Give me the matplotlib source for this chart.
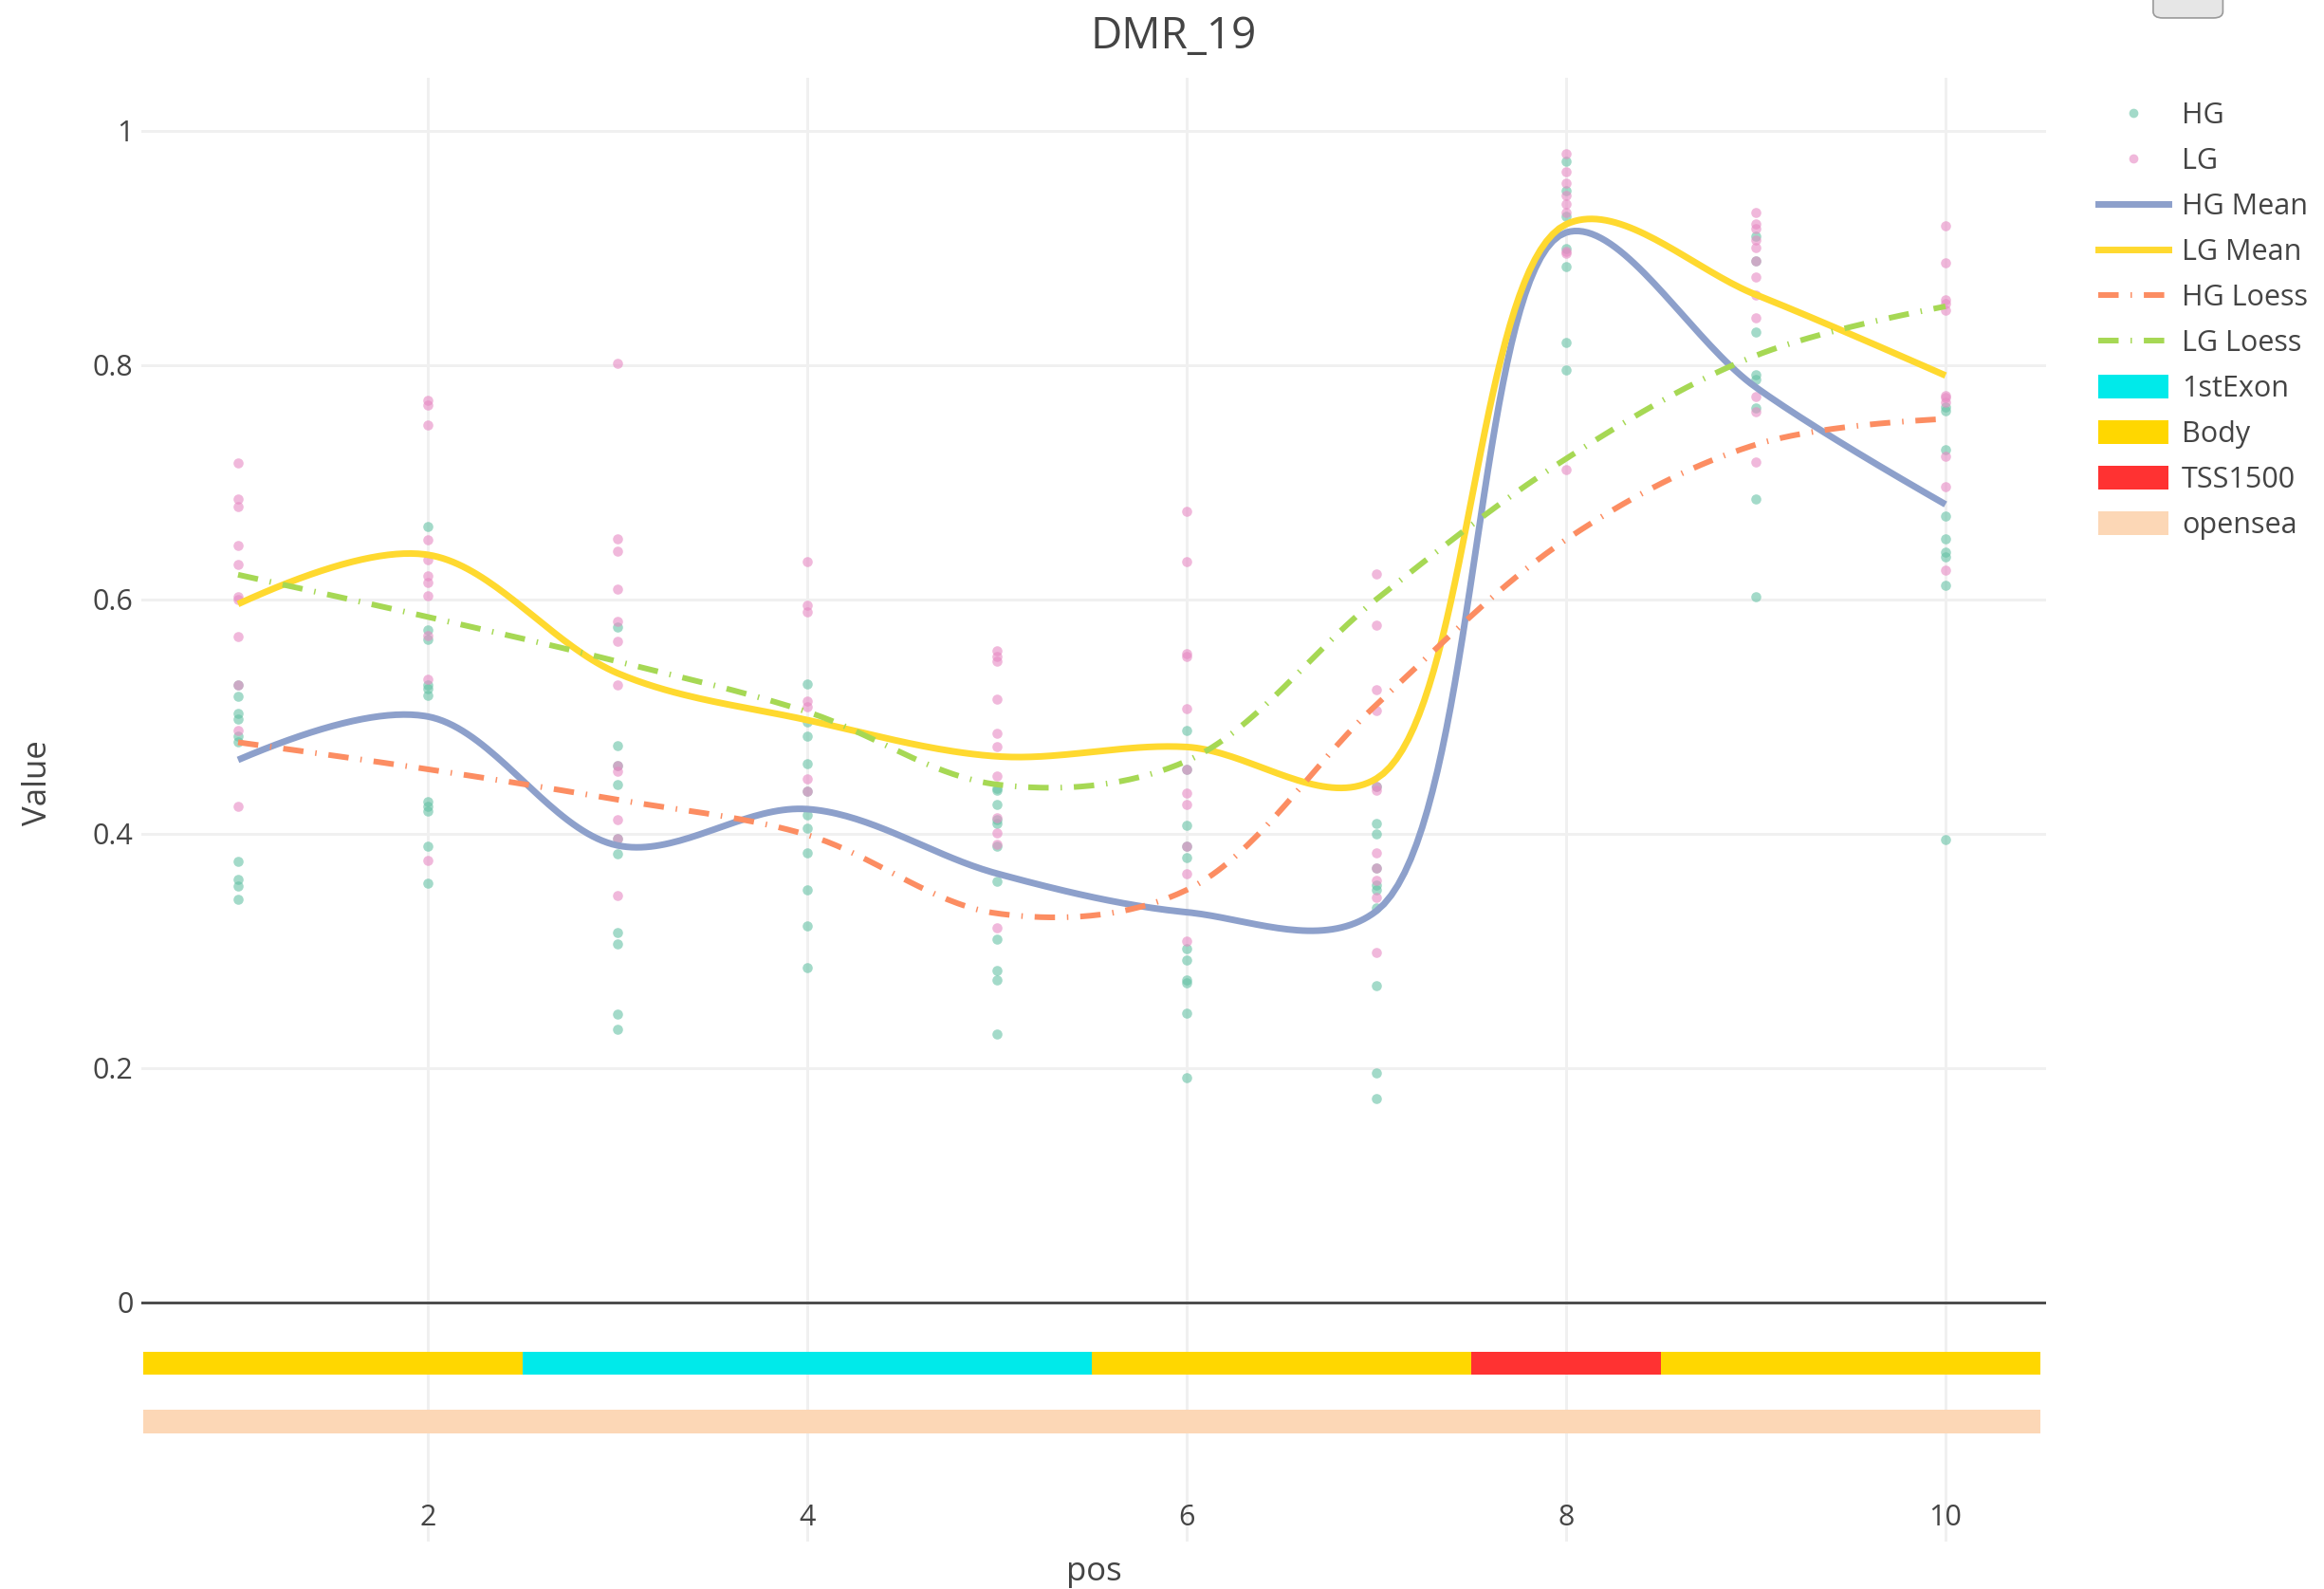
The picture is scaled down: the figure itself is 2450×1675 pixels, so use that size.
"""DMR_19: per-position values for HG / LG groups with mean and loess curves."""

import numpy as np
import matplotlib
matplotlib.use("Agg")
import matplotlib.pyplot as plt
from matplotlib.lines import Line2D
from matplotlib.patches import Patch, FancyBboxPatch

plt.rcParams["font.family"] = ["Open Sans", "DejaVu Sans"]

pos = [1, 2, 3, 4, 5, 6, 7, 8, 9, 10]

# individual sample values per position
hg_values = [
    [0.527, 0.517, 0.503, 0.498, 0.483, 0.478, 0.376, 0.361, 0.355, 0.344],
    [0.662, 0.574, 0.566, 0.527, 0.524, 0.518, 0.427, 0.423, 0.419, 0.389, 0.358],
    [0.576, 0.475, 0.458, 0.442, 0.396, 0.383, 0.316, 0.306, 0.246, 0.233],
    [0.528, 0.495, 0.483, 0.460, 0.436, 0.416, 0.405, 0.384, 0.352, 0.321, 0.286],
    [0.439, 0.437, 0.425, 0.412, 0.409, 0.389, 0.359, 0.310, 0.283, 0.275, 0.229],
    [0.488, 0.455, 0.407, 0.389, 0.380, 0.302, 0.292, 0.275, 0.273, 0.247, 0.192],
    [0.440, 0.409, 0.400, 0.371, 0.356, 0.352, 0.337, 0.270, 0.196, 0.174],
    [0.974, 0.949, 0.927, 0.899, 0.884, 0.819, 0.796],
    [0.910, 0.889, 0.828, 0.792, 0.788, 0.763, 0.686, 0.602],
    [0.764, 0.761, 0.728, 0.671, 0.652, 0.640, 0.636, 0.612, 0.395],
]
lg_values = [
    [0.716, 0.686, 0.679, 0.646, 0.630, 0.602, 0.600, 0.568, 0.527, 0.488, 0.423],
    [0.770, 0.766, 0.749, 0.651, 0.634, 0.620, 0.614, 0.603, 0.569, 0.532, 0.377],
    [0.801, 0.652, 0.641, 0.609, 0.581, 0.564, 0.527, 0.458, 0.453, 0.412, 0.396, 0.347],
    [0.632, 0.595, 0.589, 0.513, 0.508, 0.447, 0.436],
    [0.556, 0.551, 0.547, 0.515, 0.486, 0.474, 0.449, 0.414, 0.401, 0.391, 0.320],
    [0.675, 0.632, 0.554, 0.551, 0.507, 0.455, 0.435, 0.425, 0.389, 0.366, 0.308],
    [0.622, 0.578, 0.523, 0.505, 0.440, 0.437, 0.384, 0.371, 0.360, 0.346, 0.299],
    [0.980, 0.965, 0.955, 0.945, 0.937, 0.930, 0.897, 0.895, 0.711],
    [0.930, 0.920, 0.916, 0.907, 0.900, 0.889, 0.875, 0.860, 0.840, 0.773, 0.760, 0.717],
    [0.919, 0.887, 0.856, 0.852, 0.847, 0.774, 0.772, 0.768, 0.722, 0.696, 0.625],
]

hg_mean = [0.463, 0.500, 0.390, 0.421, 0.366, 0.333, 0.334, 0.913, 0.781, 0.681]
lg_mean = [0.596, 0.638, 0.537, 0.497, 0.466, 0.474, 0.447, 0.920, 0.860, 0.791]
hg_loess = [0.478, 0.455, 0.429, 0.399, 0.332, 0.352, 0.510, 0.651, 0.732, 0.754]
lg_loess = [0.621, 0.585, 0.547, 0.504, 0.442, 0.462, 0.600, 0.720, 0.808, 0.850]

region_cat = ["Body", "Body", "1stExon", "1stExon", "1stExon",
              "Body", "Body", "TSS1500", "Body", "Body"]
island_cat = ["opensea"] * 10

ann_colors = {"1stExon": "#00eaea", "Body": "#ffd700",
              "TSS1500": "#ff3232", "opensea": "#fcd7b6"}

HG_C = "#66c2a5"
LG_C = "#e78ac3"
TXT = "#444444"


def plotly_spline(xv, yv, smooth=1.0, sx=200.0, sy=1235.0, n=40):
    # same control point rule as plotly's line.shape='spline', in pixel space
    pts = np.column_stack([np.asarray(xv, float) * sx, np.asarray(yv, float) * sy])
    tang = []
    for i in range(1, len(pts) - 1):
        p1 = pts[i]
        d1 = pts[i - 1] - p1
        d2 = pts[i + 1] - p1
        d1a = np.hypot(*d1) ** 0.5
        d2a = np.hypot(*d2) ** 0.5
        num = (d2a ** 2 * d1 - d1a ** 2 * d2) * smooth
        den1 = 3 * d2a * (d1a + d2a)
        den2 = 3 * d1a * (d1a + d2a)
        tang.append((p1 + num / den1, p1 - num / den2))
    t = np.linspace(0, 1, n)[:, None]
    segs = []
    a, c, b = pts[0], tang[0][0], pts[1]
    segs.append((1 - t) ** 2 * a + 2 * (1 - t) * t * c + t ** 2 * b)
    for i in range(2, len(pts) - 1):
        a, c1, c2, b = pts[i - 1], tang[i - 2][1], tang[i - 1][0], pts[i]
        segs.append((1 - t) ** 3 * a + 3 * (1 - t) ** 2 * t * c1
                    + 3 * (1 - t) * t ** 2 * c2 + t ** 3 * b)
    a, c, b = pts[-2], tang[-1][1], pts[-1]
    segs.append((1 - t) ** 2 * a + 2 * (1 - t) * t * c + t ** 2 * b)
    curve = np.vstack(segs)
    return curve[:, 0] / sx, curve[:, 1] / sy


fig = plt.figure(figsize=(24.5, 16.75), dpi=100)
ax = fig.add_axes([0.0608, 0.0299, 0.8196, 0.9211])

# annotation tracks below zero
for p, cat in zip(pos, region_cat):
    ax.bar(p, 0.0194, width=1.0, bottom=-0.0612, color=ann_colors[cat], lw=0, zorder=1)
for p, cat in zip(pos, island_cat):
    ax.bar(p, 0.0200, width=1.0, bottom=-0.1117, color=ann_colors[cat], lw=0, zorder=1)

# scatter of samples
for p, vals in zip(pos, hg_values):
    ax.scatter([p] * len(vals), vals, s=58, color=HG_C, alpha=0.6, lw=0, zorder=3)
for p, vals in zip(pos, lg_values):
    ax.scatter([p] * len(vals), vals, s=58, color=LG_C, alpha=0.6, lw=0, zorder=3)

dashdot = (0, (3.6, 2.1, 0.25, 2.1))
x, y = plotly_spline(pos, hg_mean)
ax.plot(x, y, color="#8da0cb", lw=5, zorder=4, solid_capstyle="butt")
x, y = plotly_spline(pos, lg_mean)
ax.plot(x, y, color="#ffd92f", lw=5, zorder=4, solid_capstyle="butt")
x, y = plotly_spline(pos, hg_loess)
ax.plot(x, y, color="#fc8d62", lw=4.3, ls=dashdot, zorder=4)
x, y = plotly_spline(pos, lg_loess)
ax.plot(x, y, color="#a6d854", lw=4.3, ls=dashdot, zorder=4)

ax.axhline(0, color=TXT, lw=2, zorder=2)

ax.set_xlim(0.49, 10.53)
ax.set_ylim(-0.204, 1.045)
ax.set_xticks([2, 4, 6, 8, 10])
ax.set_yticks([0, 0.2, 0.4, 0.6, 0.8, 1.0])
ax.set_yticklabels(["0", "0.2", "0.4", "0.6", "0.8", "1"])
ax.grid(True, color="#f0f0f0", lw=2.1, zorder=0)
ax.set_axisbelow(True)
for s in ax.spines.values():
    s.set_visible(False)
ax.tick_params(axis="y", length=0, pad=6, labelsize=22, labelcolor=TXT)
ax.tick_params(axis="x", length=0, pad=-29, labelsize=22, labelcolor=TXT)

fig.text(0.505, 0.977, "DMR_19", ha="center", va="center", fontsize=33, color=TXT)
fig.text(0.0165, 0.5075, "Value", ha="center", va="center", rotation=90,
         fontsize=25, color=TXT)
fig.text(0.4707, 0.0105, "pos", ha="center", va="center", fontsize=25, color=TXT)

handles = [
    Line2D([], [], ls="none", marker="o", ms=7, mew=0, color=HG_C, alpha=0.6),
    Line2D([], [], ls="none", marker="o", ms=7, mew=0, color=LG_C, alpha=0.6),
    Line2D([], [], color="#8da0cb", lw=5),
    Line2D([], [], color="#ffd92f", lw=5),
    Line2D([], [], color="#fc8d62", lw=4.3, ls=dashdot),
    Line2D([], [], color="#a6d854", lw=4.3, ls=dashdot),
    Patch(color=ann_colors["1stExon"], lw=0),
    Patch(color=ann_colors["Body"], lw=0),
    Patch(color=ann_colors["TSS1500"], lw=0),
    Patch(color=ann_colors["opensea"], lw=0),
]
labels = ["HG", "LG", "HG Mean", "LG Mean", "HG Loess", "LG Loess",
          "1stExon", "Body", "TSS1500", "opensea"]
leg = fig.legend(handles, labels, loc="upper left", bbox_to_anchor=(0.9029, 0.936),
                 frameon=False, fontsize=22, handlelength=2.42, handleheight=0.9,
                 handletextpad=0.46, labelspacing=0.58, borderpad=0, borderaxespad=0)
for t in leg.get_texts():
    t.set_color(TXT)

# modebar button remnant at the top edge
fig.patches.append(FancyBboxPatch((0.9265, 0.9887), 0.0300, 0.02,
                                  boxstyle="round,pad=0,rounding_size=0.004",
                                  transform=fig.transFigure, fc="#e6e6e6",
                                  ec="#9a9a9a", lw=1.2))

fig.savefig("out.png", dpi=100)
